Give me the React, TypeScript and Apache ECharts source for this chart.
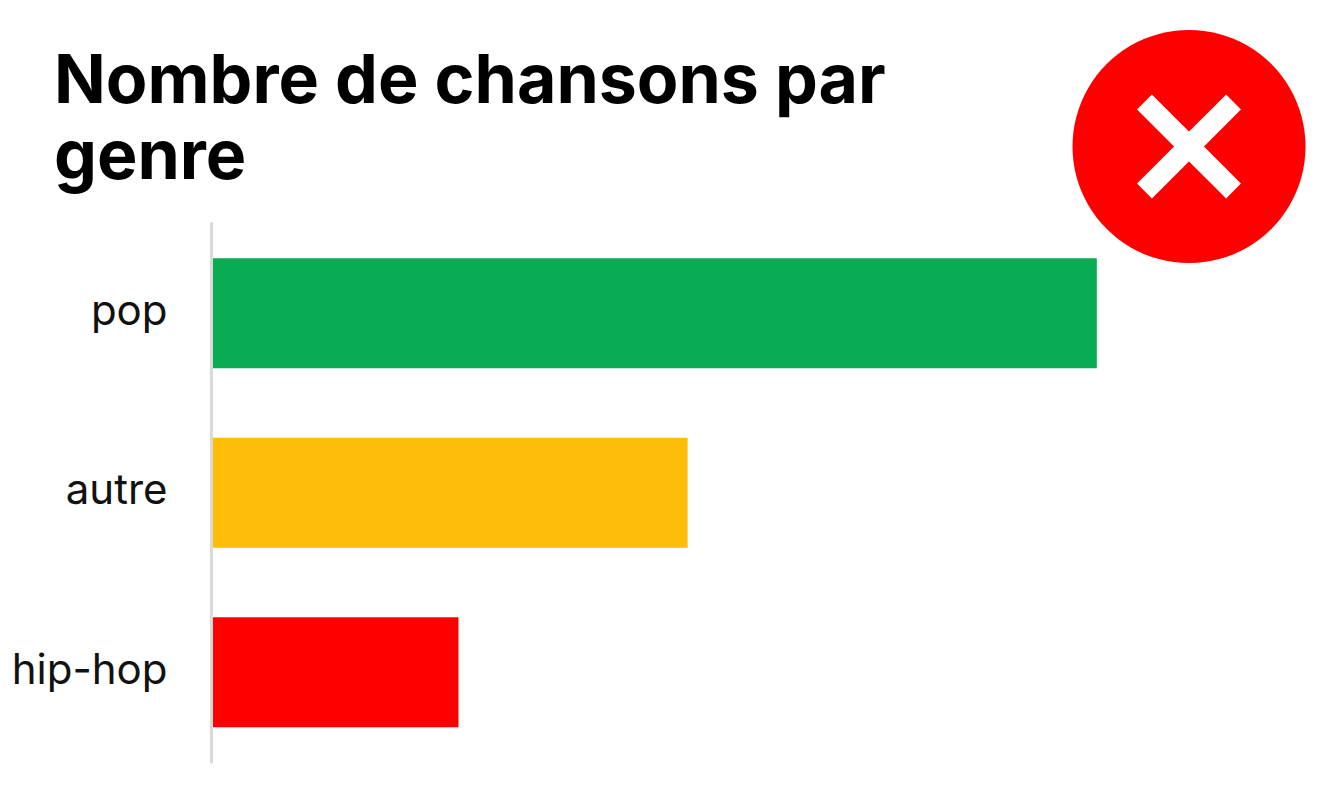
import { useEffect, useRef } from 'react'
import * as echarts from 'echarts'

const genres = ['pop', 'autre', 'hip-hop']
const songCounts = [54, 29, 15]
const barColors = ['#09ab53', '#fdbd08', '#ff0000']
const titleText = 'Nombre de chansons par\ngenre'
const fontName = '"Inter", "Noto Sans", sans-serif'

function App() {
  const chartRef = useRef<HTMLDivElement>(null)

  useEffect(() => {
    if (!chartRef.current) return
    document.body.style.margin = '0'

    const chart = echarts.init(chartRef.current, undefined, { renderer: 'svg' })
    chart.setOption({
      animation: false,
      backgroundColor: '#ffffff',
      title: {
        text: titleText,
        left: 49,
        top: 35,
        textStyle: {
          color: '#000000',
          fontFamily: fontName,
          fontSize: 68,
          fontWeight: 700,
          lineHeight: 76
        }
      },
      grid: { left: 213, top: 223.5, width: 982, height: 538.5 },
      xAxis: { type: 'value', min: 0, max: 60, show: false },
      yAxis: {
        type: 'category',
        data: genres,
        inverse: true,
        offset: 1.5,
        axisLine: { onZero: false, lineStyle: { color: '#d9d9d9', width: 3 } },
        axisTick: { show: false },
        axisLabel: {
          color: '#111111',
          fontFamily: fontName,
          fontSize: 42,
          margin: 44,
          verticalAlign: 'bottom',
          lineHeight: 8
        }
      },
      series: [
        {
          type: 'bar',
          barWidth: 110,
          data: songCounts.map((value, i) => ({
            value,
            itemStyle: { color: barColors[i] }
          }))
        }
      ],
      graphic: [
        {
          type: 'group',
          x: 1189,
          y: 146.5,
          children: [
            { type: 'circle', shape: { cx: 0, cy: 0, r: 116.5 }, style: { fill: '#ff0000' } },
            {
              type: 'rect',
              rotation: Math.PI / 4,
              shape: { x: -63, y: -10.5, width: 126, height: 21 },
              style: { fill: '#ffffff' }
            },
            {
              type: 'rect',
              rotation: -Math.PI / 4,
              shape: { x: -63, y: -10.5, width: 126, height: 21 },
              style: { fill: '#ffffff' }
            }
          ]
        }
      ]
    })

    return () => {
      chart.dispose()
    }
  }, [])

  return <div ref={chartRef} style={{ width: 1336, height: 800 }} />
}

export default App
